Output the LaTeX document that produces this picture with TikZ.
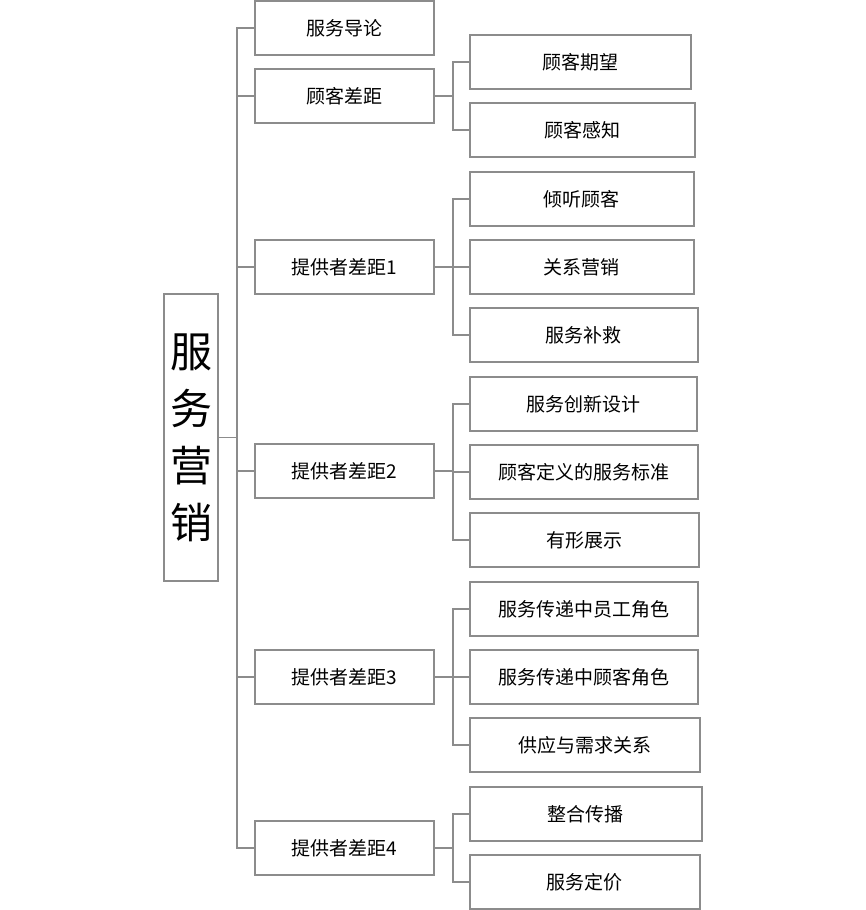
\documentclass[tikz,border=0pt]{standalone}
\usepackage{fontspec}
\setmainfont{Noto Sans CJK SC}
\definecolor{linegray}{RGB}{140,140,140}
\begin{document}
\begin{tikzpicture}[x=1pt, y=-1pt,
    box/.style={draw=linegray, line width=1.8pt, minimum height=54pt, inner sep=0pt,
      anchor=west, font=\fontsize{19}{21}\selectfont},
    link/.style={draw=linegray, line width=1.8pt}]
    \useasboundingbox (0,0) rectangle (865,910);
    % root
    \node[draw=linegray, line width=1.8pt, minimum width=54pt, minimum height=287pt,
      inner sep=0pt, align=center, font=\fontsize{42}{57}\selectfont] (root) at (191,437.5) {服\\务\\营\\销};
    % first level
    \foreach \name/\y/\txt in {g0/28/服务导论, g1/96/顾客差距, g2/267/提供者差距1,
        g3/471/提供者差距2, g4/677/提供者差距3, g5/848/提供者差距4}{
        \node[box, minimum width=179pt] (\name) at (254,\y) {\txt};
        \draw[link] (root.east) -- ++(18,0) |- (\name.west);
    }
    % second level
    \foreach \up/\name/\y/\w/\txt in {g1/s1/62/221/顾客期望, g1/s2/130/225/顾客感知,
        g2/s3/199/224/倾听顾客, g2/s4/267/224/关系营销, g2/s5/335/228/服务补救,
        g3/s6/404/227/服务创新设计, g3/s7/472/228/顾客定义的服务标准, g3/s8/540/229/有形展示,
        g4/s9/609/228/服务传递中员工角色, g4/s10/677/228/服务传递中顾客角色, g4/s11/745/230/供应与需求关系,
        g5/s12/814/232/整合传播, g5/s13/882/230/服务定价}{
        \node[box, minimum width=\w pt] (\name) at (469,\y) {\txt};
        \draw[link] (\up.east) -- ++(18,0) |- (\name.west);
    }
\end{tikzpicture}
\end{document}
